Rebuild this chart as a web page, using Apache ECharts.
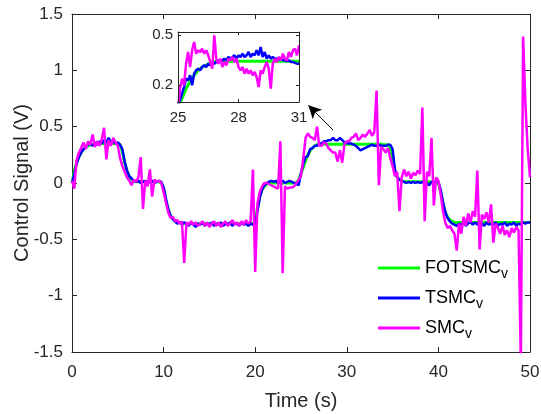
<!DOCTYPE html>
<html><head><meta charset="utf-8">
<script src="https://cdn.jsdelivr.net/npm/echarts@6/dist/echarts.min.js"></script>
<style>html,body{margin:0;padding:0;background:#fff}#c{width:541px;height:414px}</style>
</head><body><div id="c"></div>
<script>
// ---- data ----
const timeStep = 0.25;           // main plot sampling, s (0 .. 50)
const insetStart = 25, insetStep = 0.1; // inset sampling, s (25 .. 31)

const seriesNames = ['FOTSMC', 'TSMC', 'SMC'];
const seriesColors = ['#00ff00', '#0000ff', '#ff00ff'];

const xTicks = [0, 10, 20, 30, 40, 50];
const yTicks = [-1.5, -1, -0.5, 0, 0.5, 1, 1.5];
const insetXTicks = [25, 28, 31];
const insetYTicks = [0.2, 0.5];

const fotsmc = [
  0.00,0.10,0.18,0.23,0.27,0.30,0.32,0.33,
  0.34,0.34,0.35,0.35,0.35,0.35,0.35,0.35,
  0.35,0.35,0.35,0.35,0.35,0.34,0.28,0.18,
  0.11,0.06,0.03,0.02,0.01,0.01,0.01,0.01,
  0.01,0.01,0.01,0.01,0.01,0.01,0.01,0.00,
  -0.05,-0.15,-0.23,-0.29,-0.32,-0.34,-0.35,-0.35,
  -0.36,-0.36,-0.36,-0.36,-0.36,-0.36,-0.36,-0.36,
  -0.36,-0.36,-0.36,-0.36,-0.36,-0.36,-0.36,-0.36,
  -0.36,-0.36,-0.36,-0.36,-0.36,-0.36,-0.36,-0.36,
  -0.36,-0.36,-0.36,-0.36,-0.36,-0.36,-0.36,-0.36,
  -0.34,-0.22,-0.12,-0.06,-0.03,-0.01,0.00,0.00,
  0.00,0.00,0.00,0.00,0.00,0.00,0.00,0.00,
  0.00,0.00,0.00,0.03,0.08,0.14,0.20,0.25,
  0.29,0.31,0.33,0.34,0.345,0.345,0.345,0.345,
  0.345,0.345,0.345,0.345,0.345,0.345,0.345,0.345,
  0.345,0.345,0.345,0.345,0.345,0.345,0.345,0.345,
  0.345,0.345,0.345,0.345,0.345,0.345,0.345,0.345,
  0.34,0.34,0.34,0.31,0.21,0.11,0.05,0.03,
  0.02,0.01,0.01,0.01,0.01,0.01,0.01,0.01,
  0.01,0.01,0.01,0.01,0.01,0.01,0.01,0.01,
  0.00,-0.08,-0.18,-0.26,-0.30,-0.33,-0.34,-0.35,
  -0.35,-0.35,-0.35,-0.35,-0.35,-0.35,-0.35,-0.35,
  -0.35,-0.35,-0.35,-0.35,-0.35,-0.35,-0.35,-0.35,
  -0.35,-0.35,-0.35,-0.35,-0.35,-0.35,-0.35,-0.35,
  -0.35,-0.35,-0.35,-0.35,-0.35,-0.35,-0.35,-0.35,
  -0.35
];

const tsmc = [
  0.00,0.08,0.17,0.23,0.27,0.30,0.32,0.34,
  0.35,0.33,0.36,0.34,0.37,0.35,0.38,0.36,
  0.40,0.36,0.37,0.35,0.36,0.34,0.30,0.19,
  0.11,0.06,0.04,0.02,0.01,0.02,0.00,0.01,
  0.02,0.00,0.01,0.02,0.00,0.01,0.02,0.01,
  -0.04,-0.14,-0.23,-0.29,-0.32,-0.34,-0.36,-0.35,
  -0.37,-0.35,-0.36,-0.38,-0.35,-0.37,-0.39,-0.36,
  -0.37,-0.35,-0.38,-0.36,-0.37,-0.35,-0.38,-0.36,
  -0.37,-0.35,-0.38,-0.36,-0.37,-0.35,-0.38,-0.36,
  -0.36,-0.38,-0.35,-0.37,-0.36,-0.38,-0.36,-0.37,
  -0.37,-0.25,-0.13,-0.06,-0.02,0.00,0.01,0.02,
  0.01,0.02,0.00,0.01,0.02,0.00,0.01,0.02,
  0.01,0.00,-0.01,-0.02,0.09,0.17,0.23,0.24,
  0.30,0.31,0.33,0.33,0.35,0.35,0.37,0.37,
  0.38,0.38,0.40,0.38,0.38,0.40,0.38,0.36,
  0.355,0.35,0.35,0.34,0.33,0.31,0.29,0.30,
  0.31,0.32,0.33,0.34,0.33,0.33,0.34,0.33,
  0.33,0.33,0.34,0.34,0.30,0.12,0.05,0.03,
  0.02,0.01,0.00,0.01,0.00,0.01,0.00,0.01,
  0.00,0.01,-0.01,0.00,-0.02,0.01,0.00,0.01,
  0.01,-0.06,-0.17,-0.26,-0.31,-0.34,-0.36,-0.37,
  -0.38,-0.36,-0.37,-0.35,-0.38,-0.36,-0.34,-0.37,
  -0.35,-0.37,-0.34,-0.36,-0.38,-0.35,-0.37,-0.36,
  -0.37,-0.35,-0.38,-0.36,-0.37,-0.35,-0.38,-0.36,
  -0.37,-0.35,-0.38,-0.36,-0.37,-0.35,-0.36,-0.35,
  -0.35
];

const smc = [
  0.02,-0.05,0.20,0.27,0.31,0.36,0.30,0.37,
  0.34,0.43,0.32,0.37,0.33,0.39,0.49,0.21,
  0.38,0.33,0.40,0.36,0.33,0.22,0.15,0.10,
  0.05,0.02,-0.02,0.03,0.01,0.05,0.23,-0.23,
  0.02,-0.03,0.12,-0.12,0.03,0.01,0.02,0.00,
  -0.08,-0.17,-0.26,-0.31,-0.30,-0.34,-0.33,-0.36,
  -0.34,-0.71,-0.35,-0.37,-0.34,-0.37,-0.35,-0.38,
  -0.36,-0.34,-0.38,-0.35,-0.39,-0.36,-0.34,-0.38,
  -0.35,-0.39,-0.36,-0.34,-0.38,-0.36,-0.33,-0.37,
  -0.35,-0.38,-0.34,-0.37,-0.33,-0.36,-0.34,0.12,
  -0.79,-0.18,-0.08,-0.03,0.00,0.00,-0.01,-0.02,
  -0.03,-0.04,-0.05,0.37,-0.80,-0.03,-0.05,-0.04,
  -0.04,-0.03,0.00,0.03,0.06,0.22,0.40,0.44,
  0.41,0.40,0.38,0.50,0.33,0.33,0.36,0.35,
  0.31,0.29,0.27,0.27,0.19,0.29,0.18,0.35,
  0.37,0.37,0.40,0.41,0.44,0.38,0.40,0.43,
  0.41,0.44,0.47,0.42,0.45,0.82,-0.02,0.32,
  0.30,0.27,0.31,0.22,0.15,0.06,0.10,-0.25,
  0.05,0.12,0.06,0.10,0.04,0.09,0.07,0.11,
  0.08,0.67,-0.34,0.10,0.06,0.40,-0.20,0.05,
  0.02,-0.10,-0.25,-0.35,-0.40,-0.38,-0.42,-0.45,
  -0.60,-0.36,-0.45,-0.30,-0.38,-0.27,-0.35,-0.25,
  -0.30,0.11,-0.59,-0.28,-0.32,-0.26,-0.35,-0.19,
  -0.53,-0.36,-0.40,-0.45,-0.38,-0.46,-0.42,-0.48,
  -0.40,-0.44,-0.39,-0.42,-1.60,1.30,0.70,0.30,
  0.05
];

const insetFotsmc = [
  0.08,0.10,0.12,0.15,0.18,0.20,0.225,0.245,0.26,0.275,
  0.29,0.30,0.31,0.315,0.32,0.33,0.335,0.34,0.34,0.345,
  0.345,0.345,0.345,0.345,0.345,0.345,0.345,0.345,0.345,0.345,
  0.345,0.345,0.345,0.345,0.345,0.345,0.345,0.345,0.345,0.345,
  0.345,0.345,0.345,0.345,0.345,0.345,0.345,0.345,0.345,0.345,
  0.345,0.345,0.345,0.345,0.345,0.345,0.345,0.345,0.345,0.345,
  0.345
];
const insetTsmc = [
  0.09,0.11,0.15,0.19,0.24,0.23,0.26,0.20,0.27,0.29,
  0.30,0.29,0.31,0.32,0.31,0.33,0.32,0.34,0.33,0.34,
  0.35,0.34,0.35,0.36,0.35,0.37,0.36,0.37,0.38,0.36,
  0.38,0.37,0.39,0.37,0.38,0.40,0.37,0.39,0.38,0.41,
  0.38,0.43,0.37,0.40,0.36,0.38,0.36,0.37,0.36,0.36,
  0.355,0.36,0.35,0.35,0.345,0.35,0.34,0.34,0.335,0.33,
  0.33
];
const insetSmc = [
  0.05,0.18,0.24,0.20,0.33,0.40,0.31,0.41,0.46,0.39,
  0.41,0.40,0.42,0.39,0.41,0.38,0.34,0.30,0.50,0.36,
  0.33,0.36,0.31,0.34,0.32,0.36,0.35,0.37,0.34,0.36,
  0.31,0.29,0.31,0.27,0.30,0.27,0.29,0.26,0.28,0.25,
  0.19,0.29,0.27,0.31,0.34,0.30,0.18,0.33,0.36,0.34,
  0.37,0.35,0.39,0.36,0.35,0.40,0.37,0.41,0.42,0.38,
  0.44
];

// annotation arrow (data units of the main axes): from tail to head
const arrowFrom = [28.5, 0.47];
const arrowTo = [25.8, 0.69];

// ---- chart ----
const AX = '#262626';
const FONT = '"Liberation Sans", Arial, sans-serif';
const pair = (vals, t0, dt) => vals.map((v, i) => [+(t0 + i * dt).toFixed(3), v]);
const mainData = [fotsmc, tsmc, smc].map(v => pair(v, 0, timeStep));
const insetData = [insetFotsmc, insetTsmc, insetSmc].map(v => pair(v, insetStart, insetStep));

function axisBase(grid, min, max, pos, ticks, showLabel, fs, tickLen) {
  return {
    gridIndex: grid, type: 'value', min: min, max: max, position: pos,
    axisLine: { show: true, onZero: false, lineStyle: { color: AX, width: 1 } },
    axisTick: { show: true, inside: true, length: tickLen, customValues: ticks, lineStyle: { color: AX, width: 1 } },
    axisLabel: { show: showLabel, customValues: ticks, color: AX, fontSize: fs, fontFamily: FONT,
      formatter: v => String(+v.toFixed(2)) },
    splitLine: { show: false }
  };
}

const xMain = axisBase(0, 0, 50, 'bottom', xTicks, true, 17, 5);
xMain.axisLabel.margin = 12;
Object.assign(xMain, { name: 'Time (s)', nameLocation: 'middle', nameGap: 39, nameMoveOverlap: false,
  nameTextStyle: { color: AX, fontSize: 20, fontFamily: FONT } });
const yMain = axisBase(0, -1.5, 1.5, 'left', yTicks, true, 17, 5);
yMain.axisLabel.margin = 9;
Object.assign(yMain, { name: 'Control Signal (V)', nameLocation: 'middle', nameGap: 40, nameMoveOverlap: false,
  nameTextStyle: { color: AX, fontSize: 20, fontFamily: FONT } });
const xInset = axisBase(1, 25, 31, 'bottom', insetXTicks, true, 15, 3);
xInset.axisLabel.margin = 8;
const yInset = axisBase(1, 0.1, 0.52, 'left', insetYTicks, true, 15, 3);
yInset.axisLabel.margin = 5;

const lineWidths = [3, 2.5, 2.5];
const series = [];
seriesNames.forEach((n, i) => series.push({
  name: n, type: 'line', xAxisIndex: 0, yAxisIndex: 0, data: mainData[i],
  symbol: 'none', showSymbol: false, animation: false, clip: true, z: 2 + i,
  lineStyle: { color: seriesColors[i], width: lineWidths[i] }, itemStyle: { color: seriesColors[i] }
}));
seriesNames.forEach((n, i) => series.push({
  name: n, type: 'line', xAxisIndex: 2, yAxisIndex: 2, data: insetData[i],
  symbol: 'none', showSymbol: false, animation: false, clip: true, z: 12 + i,
  lineStyle: { color: seriesColors[i], width: lineWidths[i] }, itemStyle: { color: seriesColors[i] }
}));
series.push({
  name: 'arrow', type: 'line', xAxisIndex: 0, yAxisIndex: 0, data: [], animation: false, z: 20,
  markLine: { silent: true, animation: false, symbol: ['none', 'arrow'], symbolSize: [10, 13],
    label: { show: false }, itemStyle: { color: '#000' },
    lineStyle: { color: '#000', width: 1, type: 'solid' },
    data: [[{ coord: arrowFrom }, { coord: arrowTo }]] }
});

const legends = seriesNames.map((n, i) => ({
  data: [n], left: 378, top: 259 + i * 30, orient: 'vertical',
  icon: 'rect', itemWidth: 42, itemHeight: 3, padding: 0, selectedMode: false,
  textStyle: { color: AX, fontFamily: FONT,
    rich: { m: { fontSize: 18, fontFamily: FONT, color: '#000' },
            s: { fontSize: 14, fontFamily: FONT, color: '#000', padding: [12, 0, 0, 0] } } },
  formatter: name => '{m|' + name + '}{s|v}'
}));

const option = {
  backgroundColor: '#fff',
  animation: false,
  grid: [
    { left: 72, right: 11, top: 14, bottom: 62, containLabel: false, outerBoundsMode: 'none' },
    { left: 178, top: 32, width: 121, height: 70, show: true, backgroundColor: '#fff', borderWidth: 0, z: 10,
      containLabel: false, outerBoundsMode: 'none' }
  ],
  xAxis: [
    xMain,
    axisBase(0, 0, 50, 'top', xTicks, false, 17, 5),
    Object.assign(xInset, { z: 15 }),
    Object.assign(axisBase(1, 25, 31, 'top', insetXTicks, false, 15, 3), { z: 15 })
  ],
  yAxis: [
    yMain,
    axisBase(0, -1.5, 1.5, 'right', yTicks, false, 17, 5),
    Object.assign(yInset, { z: 15 }),
    Object.assign(axisBase(1, 0.1, 0.52, 'right', insetYTicks, false, 15, 3), { z: 15 })
  ],
  legend: legends,
  series: series
};

const chart = echarts.init(document.getElementById('c'), null, { renderer: 'canvas' });
chart.setOption(option);
</script></body></html>
